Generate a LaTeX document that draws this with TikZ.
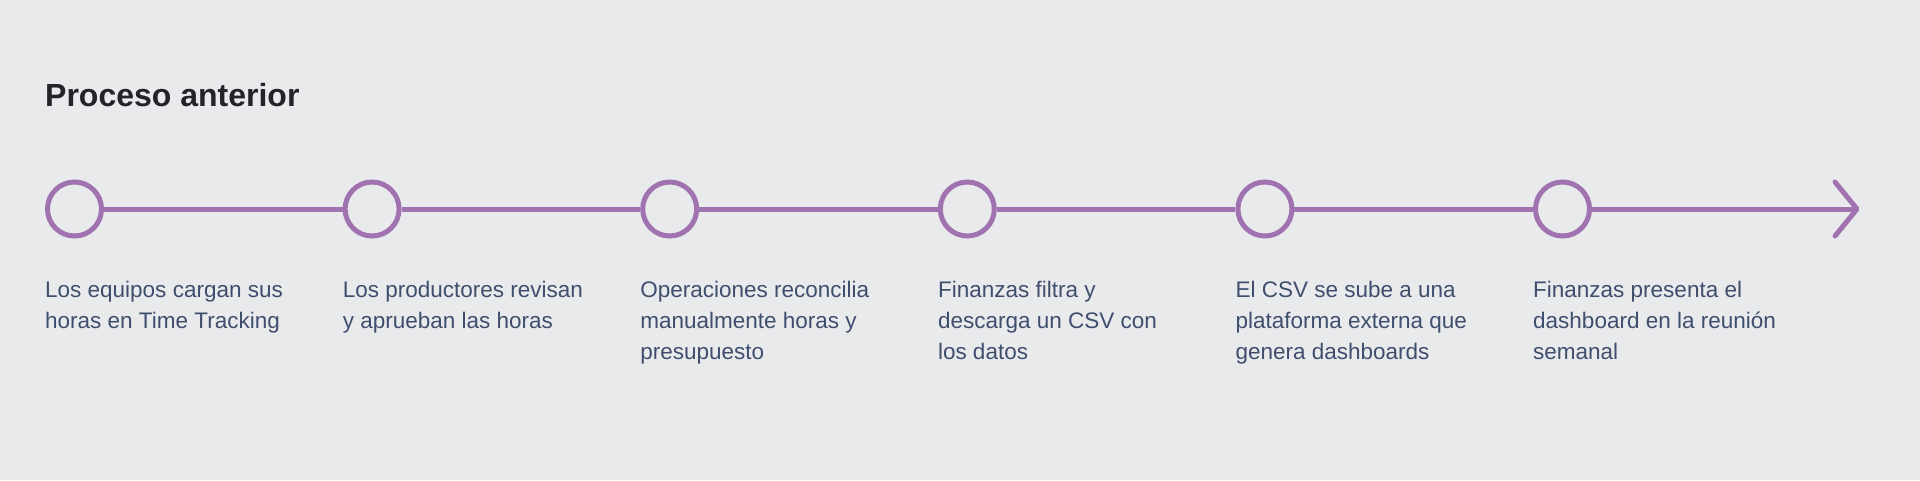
\documentclass[tikz,border=0pt]{standalone}
\usepackage{fontspec}
\setmainfont{Liberation Sans}
\usepackage{xcolor}
\usetikzlibrary{positioning}

\definecolor{tlbg}{HTML}{E9EAEC}
\definecolor{tlpurple}{HTML}{A172B0}
\definecolor{tlslate}{HTML}{404E6E}
\definecolor{tltitle}{HTML}{232429}

\begin{document}
\begin{tikzpicture}[
    x=1pt,
    y=-1pt,
    stepdot/.style={
        circle,
        draw=tlpurple,
        line width=5pt,
        minimum size=54pt,
        inner sep=0pt
    },
    caption/.style={
        inner sep=0pt,
        text=tlslate,
        align=left,
        font=\fontsize{22.5}{31}\selectfont
    },
    link/.style={
        draw=tlpurple,
        line width=5pt
    }
]
\useasboundingbox[fill=tlbg] (0,0) rectangle (1920,480);

% Title
\node [anchor=base west, inner sep=0pt, text=tltitle, font=\bfseries\fontsize{32}{38}\selectfont] (title) at (45,106) {Proceso anterior};

% Steps
\node [stepdot] (s1) at (74.5,209) {};
\node [stepdot, right=238.6pt of s1] (s2) {};
\node [stepdot, right=238.6pt of s2] (s3) {};
\node [stepdot, right=238.6pt of s3] (s4) {};
\node [stepdot, right=238.6pt of s4] (s5) {};
\node [stepdot, right=238.6pt of s5] (s6) {};
\coordinate (tip) at (1857,209);

% Captions
\node [caption, below=72pt of s1.west, anchor=north west] (c1) {Los equipos cargan sus\\horas en Time Tracking};
\node [caption, below=72pt of s2.west, anchor=north west] (c2) {Los productores revisan\\y aprueban las horas};
\node [caption, below=72pt of s3.west, anchor=north west] (c3) {Operaciones reconcilia\\manualmente horas y\\presupuesto};
\node [caption, below=72pt of s4.west, anchor=north west] (c4) {Finanzas filtra y\\descarga un CSV con\\los datos};
\node [caption, below=72pt of s5.west, anchor=north west] (c5) {El CSV se sube a una\\plataforma externa que\\genera dashboards};
\node [caption, below=72pt of s6.west, anchor=north west] (c6) {Finanzas presenta el\\dashboard en la reunión\\semanal};

% Paths
\path [link] (s1) -- (s2);
\path [link] (s2) -- (s3);
\path [link] (s3) -- (s4);
\path [link] (s4) -- (s5);
\path [link] (s5) -- (s6);
\path [link] (s6) -- (tip);
\path [link, line cap=round, line join=round] ([xshift=-22pt, yshift=27pt]tip) -- (tip) -- ([xshift=-22pt, yshift=-27pt]tip);

\end{tikzpicture}
\end{document}
